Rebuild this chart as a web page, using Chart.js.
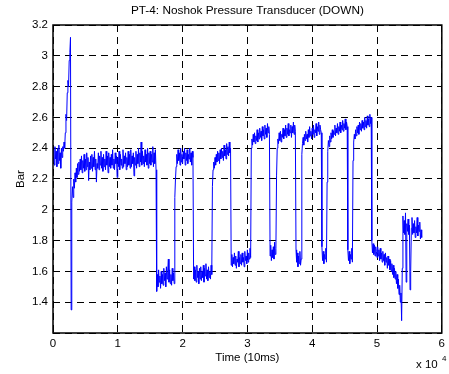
<!DOCTYPE html>
<html>
<head>
<meta charset="utf-8">
<script src="https://cdn.jsdelivr.net/npm/chart.js@4/dist/chart.umd.min.js"></script>
<style>
    html, body { margin: 0; padding: 0; background: #fff; }
</style>
</head>
<body>
<canvas id="pressureChart" width="449" height="374"></canvas>
<script>
// one reading every 100 samples (time unit is 10ms)
var sampleStep = 100;
var xTickValues = [0, 10000, 20000, 30000, 40000, 50000, 60000];
var yTickValues = [1.2, 1.4, 1.6, 1.8, 2, 2.2, 2.4, 2.6, 2.8, 3, 3.2];

// PT-4 readings (Bar), 10 per row
var pressure = [
    2.31, 2.39, 2.29, 2.41, 2.33, 2.38, 2.28, 2.40, 2.30, 2.42,
    2.32, 2.37, 2.27, 2.40, 2.34, 2.41, 2.38, 2.44, 2.40, 2.50,
    2.62, 2.58, 2.76, 2.84, 2.80, 2.97, 3.02, 3.12, 1.35, 2.05,
    2.15, 2.08, 2.20, 2.14, 2.24, 2.18, 2.27, 2.21, 2.30, 2.23,
    2.31, 2.25, 2.33, 2.26, 2.35, 2.24, 2.32, 2.27, 2.36, 2.25,
    2.33, 2.26, 2.37, 2.28, 2.34, 2.19, 2.31, 2.26, 2.35, 2.27,
    2.36, 2.25, 2.34, 2.28, 2.38, 2.26, 2.33, 2.18, 2.30, 2.27,
    2.37, 2.26, 2.35, 2.29, 2.38, 2.27, 2.34, 2.25, 2.36, 2.28,
    2.33, 2.26, 2.38, 2.29, 2.35, 2.24, 2.37, 2.28, 2.34, 2.27,
    2.36, 2.29, 2.39, 2.27, 2.33, 2.26, 2.37, 2.30, 2.35, 2.21,
    2.34, 2.28, 2.38, 2.26, 2.36, 2.29, 2.33, 2.27, 2.39, 2.28,
    2.35, 2.30, 2.37, 2.26, 2.34, 2.28, 2.38, 2.29, 2.36, 2.27,
    2.39, 2.28, 2.35, 2.30, 2.37, 2.22, 2.34, 2.29, 2.38, 2.27,
    2.36, 2.30, 2.40, 2.28, 2.37, 2.31, 2.44, 2.29, 2.38, 2.30,
    2.35, 2.28, 2.39, 2.31, 2.36, 2.29, 2.40, 2.27, 2.37, 2.30,
    2.38, 2.29, 2.36, 2.31, 2.41, 2.28, 2.37, 2.30, 2.39, 2.26,
    1.47, 1.58, 1.50, 1.61, 1.53, 1.57, 1.49, 1.60, 1.52, 1.58,
    1.51, 1.62, 1.54, 1.59, 1.50, 1.63, 1.55, 1.60, 1.68, 1.53,
    1.61, 1.52, 1.58, 1.51, 1.62, 1.54, 1.59, 1.52, 2.08, 2.20,
    2.28, 2.36, 2.30, 2.39, 2.32, 2.37, 2.29, 2.40, 2.31, 2.36,
    2.30, 2.38, 2.33, 2.40, 2.29, 2.37, 2.32, 2.39, 2.30, 2.36,
    2.33, 2.40, 2.31, 2.37, 2.29, 2.38, 2.34, 1.55, 1.63, 1.54,
    1.61, 1.53, 1.64, 1.56, 1.60, 1.52, 1.62, 1.55, 1.63, 1.54,
    1.60, 1.56, 1.64, 1.53, 1.62, 1.57, 1.65, 1.55, 1.61, 1.54,
    1.63, 1.56, 1.60, 1.55, 1.64, 1.58, 2.15, 2.26, 2.31, 2.27,
    2.34, 2.29, 2.36, 2.31, 2.38, 2.32, 2.37, 2.30, 2.39, 2.33,
    2.40, 2.34, 2.38, 2.32, 2.42, 2.35, 2.39, 2.33, 2.43, 2.36,
    2.41, 2.35, 2.44, 2.37, 2.40, 1.64, 1.71, 1.63, 1.69, 1.65,
    1.72, 1.64, 1.70, 1.62, 1.68, 1.66, 1.73, 1.63, 1.69, 1.65,
    1.71, 1.64, 1.72, 1.66, 1.69, 1.63, 1.73, 1.67, 1.70, 1.65,
    1.74, 1.66, 1.72, 1.68, 1.75, 1.69, 2.40, 2.46, 2.42, 2.49,
    2.44, 2.50, 2.43, 2.48, 2.45, 2.52, 2.44, 2.50, 2.46, 2.53,
    2.47, 2.51, 2.45, 2.54, 2.48, 2.52, 2.46, 2.55, 2.49, 2.53,
    2.47, 2.56, 2.50, 2.54, 2.49, 1.70, 1.77, 1.67, 1.74, 1.69,
    1.76, 1.68, 1.79, 1.71, 1.75, 2.22, 2.40, 2.46, 2.43, 2.50,
    2.45, 2.51, 2.44, 2.49, 2.47, 2.53, 2.46, 2.52, 2.48, 2.55,
    2.47, 2.53, 2.49, 2.56, 2.48, 2.52, 2.50, 2.55, 2.47, 2.54,
    2.50, 2.57, 2.49, 2.55, 2.51, 1.74, 1.66, 1.72, 1.63, 1.70,
    1.65, 1.73, 1.64, 1.68, 2.36, 2.43, 2.47, 2.42, 2.49, 2.45,
    2.51, 2.46, 2.49, 2.44, 2.52, 2.47, 2.54, 2.48, 2.51, 2.46,
    2.53, 2.49, 2.55, 2.47, 2.52, 2.50, 2.56, 2.48, 2.54, 2.51,
    2.57, 2.49, 2.55, 2.52, 2.50, 1.76, 1.67, 1.73, 1.65, 1.71,
    1.68, 1.75, 1.66, 2.18, 2.38, 2.45, 2.41, 2.48, 2.44, 2.50,
    2.46, 2.52, 2.47, 2.51, 2.49, 2.55, 2.48, 2.53, 2.50, 2.56,
    2.49, 2.54, 2.51, 2.57, 2.50, 2.55, 2.52, 2.58, 2.51, 2.56,
    2.53, 2.59, 2.52, 2.57, 2.54, 1.74, 1.67, 1.73, 1.65, 1.71,
    1.68, 1.75, 1.66, 2.32, 2.44, 2.49, 2.46, 2.52, 2.48, 2.54,
    2.50, 2.55, 2.49, 2.57, 2.52, 2.56, 2.51, 2.58, 2.53, 2.57,
    2.52, 2.60, 2.54, 2.58, 2.53, 2.61, 2.55, 2.59, 2.54, 2.62,
    2.56, 2.60, 1.80, 1.72, 1.78, 1.71, 1.77, 1.70, 1.76, 1.73,
    1.69, 1.76, 1.70, 1.74, 1.67, 1.75, 1.68, 1.72, 1.66, 1.73,
    1.67, 1.71, 1.64, 1.72, 1.66, 1.69, 1.62, 1.70, 1.64, 1.68,
    1.61, 1.67, 1.60, 1.65, 1.58, 1.64, 1.56, 1.62, 1.55, 1.60,
    1.52, 1.58, 1.49, 1.55, 1.45, 1.51, 1.40, 1.46, 1.28, 1.62,
    1.96, 1.85, 1.93, 1.84, 1.98, 1.53, 1.91, 1.86, 1.94, 1.84,
    1.90, 1.48, 1.60, 1.88, 1.95, 1.84, 1.91, 1.85, 1.93, 1.82,
    1.89, 1.85, 1.95, 1.83, 1.90, 1.86, 1.92, 1.81, 1.87, 1.82
];

var points = pressure.map(function (v, i) {
    return { x: i * sampleStep, y: v };
});

var FONT = '"Liberation Sans", Arial, sans-serif';

// MATLAB style frame + texts
var matlabFrame = {
    id: 'matlabFrame',
    afterDraw: function (chart) {
        var ctx = chart.ctx;
        var a = chart.chartArea;
        ctx.save();
        ctx.strokeStyle = '#000';
        ctx.lineWidth = 1.5;
        ctx.strokeRect(a.left, a.top, a.right - a.left, a.bottom - a.top);

        ctx.fillStyle = '#000';
        ctx.textAlign = 'center';
        ctx.textBaseline = 'middle';
        ctx.font = '11.8px ' + FONT;
        ctx.fillText('PT-4: Noshok Pressure Transducer (DOWN)', (a.left + a.right) / 2, 11);
        ctx.font = '11.5px ' + FONT;
        ctx.fillText('Time (10ms)', (a.left + a.right) / 2, 358);

        ctx.save();
        ctx.translate(21, (a.top + a.bottom) / 2);
        ctx.rotate(-Math.PI / 2);
        ctx.fillText('Bar', 0, 0);
        ctx.restore();

        ctx.textAlign = 'left';
        ctx.fillText('x 10', 416, 365);
        ctx.font = '8px ' + FONT;
        ctx.fillText('4', 442, 359);
        ctx.restore();
    }
};

var ctxPressure = document.getElementById('pressureChart').getContext('2d');
var pressureChart = new Chart(ctxPressure, {
    type: 'line',
    plugins: [matlabFrame],
    data: {
        datasets: [{
            data: points,
            borderColor: '#0000ff',
            borderWidth: 1,
            pointRadius: 0,
            tension: 0,
            fill: false
        }]
    },
    options: {
        responsive: false,
        animation: false,
        layout: {
            padding: { top: 25, right: 6, left: 0, bottom: 0 }
        },
        plugins: {
            legend: { display: false },
            title: { display: false },
            tooltip: { enabled: false }
        },
        scales: {
            x: {
                type: 'linear',
                min: 0,
                max: 60000,
                afterBuildTicks: function (scale) {
                    scale.ticks = xTickValues.map(function (v) { return { value: v }; });
                },
                afterFit: function (scale) { scale.height = 41; },
                ticks: {
                    color: '#000',
                    font: { family: FONT, size: 11.5 },
                    padding: 4,
                    maxRotation: 0,
                    callback: function (v) { return String(v / 10000); }
                },
                grid: { color: '#000', lineWidth: 1, drawTicks: false },
                border: { display: false, dash: [7, 5] }
            },
            y: {
                min: 1.2,
                max: 3.2,
                afterBuildTicks: function (scale) {
                    scale.ticks = yTickValues.map(function (v) { return { value: v }; });
                },
                afterFit: function (scale) { scale.width = 53; },
                ticks: {
                    color: '#000',
                    font: { family: FONT, size: 11.5 },
                    padding: 5,
                    callback: function (v) {
                        if (Math.abs(v - 1.2) < 1e-6) return '';
                        return String(Math.round(v * 10) / 10);
                    }
                },
                grid: { color: '#000', lineWidth: 1, drawTicks: false },
                border: { display: false, dash: [7, 5] }
            }
        }
    }
});
</script>
</body>
</html>
